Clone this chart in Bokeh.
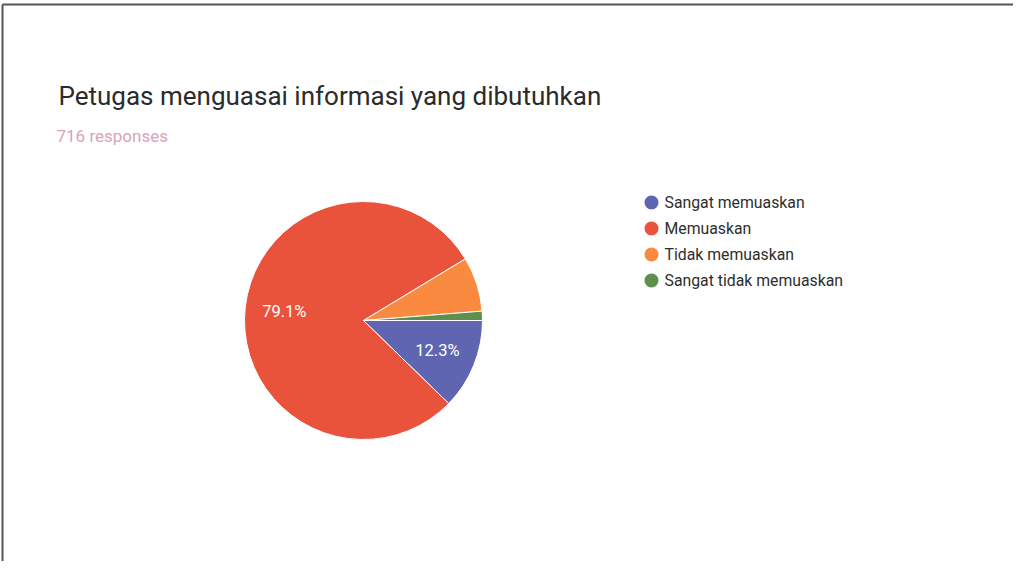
import math
from bokeh.plotting import figure
from bokeh.models import Range1d, ColumnDataSource
from bokeh.core.properties import value
from bokeh.embed import file_html
from bokeh.resources import INLINE

# ---- data ----
title_text = "Petugas menguasai informasi yang dibutuhkan"
subtitle_text = "716 responses"
categories = ["Sangat memuaskan", "Memuaskan", "Tidak memuaskan", "Sangat tidak memuaskan"]
counts = [88, 566, 53, 9]
colors = ["#6065b2", "#e9523b", "#fa8a3f", "#5e8f4c"]

W, H = 1013, 561
p = figure(width=W, height=H, output_backend="svg", toolbar_location=None,
           x_range=Range1d(0, W), y_range=Range1d(0, H), min_border=0)
p.axis.visible = False
p.grid.visible = False
p.outline_line_color = None
p.background_fill_color = "white"
p.border_fill_color = "white"

def sx(x):
    return x - 8

def sy(y):
    return 569 - y

# frame (scanned document box)
p.line([sx(10), sx(10)], [sy(577), sy(12)], line_color="#555555", line_width=2)
p.line([sx(10), sx(1029)], [sy(12), sy(12)], line_color="#555555", line_width=2)

# titles
p.text(x=[sx(66)], y=[sy(103)], text=[title_text], text_font=value("Roboto"),
       text_font_size="26px", text_color="#2b2b2b", text_baseline="alphabetic")
p.text(x=[sx(64)], y=[sy(143)], text=[subtitle_text], text_font=value("Roboto"),
       text_font_size="17px", text_color="#d9a3b6", text_baseline="alphabetic")

# pie
total = sum(counts)
fracs = [c / total for c in counts]
cx, cy, R = sx(371), sy(328), 119
starts, ends = [], []
a = 0.0
for f in fracs:
    starts.append(a)
    a -= f * 2 * math.pi
    ends.append(a)
src = ColumnDataSource(dict(start=starts, end=ends, color=colors))
p.wedge(x=cx, y=cy, radius=R, start_angle="start", end_angle="end",
        direction="clock", fill_color="color", line_color="white", line_width=1,
        source=src)

lx, ly, lt = [], [], []
for f, s, e in zip(fracs, starts, ends):
    if f >= 0.1:
        m = (s + e) / 2
        lx.append(cx + 0.67 * R * math.cos(m))
        ly.append(cy + 0.67 * R * math.sin(m))
        lt.append(f"{f * 100:.1f}%")
p.text(x=lx, y=ly, text=lt, text_font=value("Roboto"), text_font_size="16.5px",
       text_color="white", text_align="center", text_baseline="middle")

# legend
leg_y = [sy(210) - i * 26 for i in range(len(categories))]
p.scatter(x=[sx(659)] * len(categories), y=leg_y, size=14, marker="circle",
          fill_color=colors, line_color=None)
p.text(x=[sx(672)] * len(categories), y=leg_y, text=categories,
       text_font=value("Roboto"), text_font_size="15.8px", text_color="#2e2e2e",
       text_baseline="middle")

open("out.html", "w").write(file_html(p, INLINE))
